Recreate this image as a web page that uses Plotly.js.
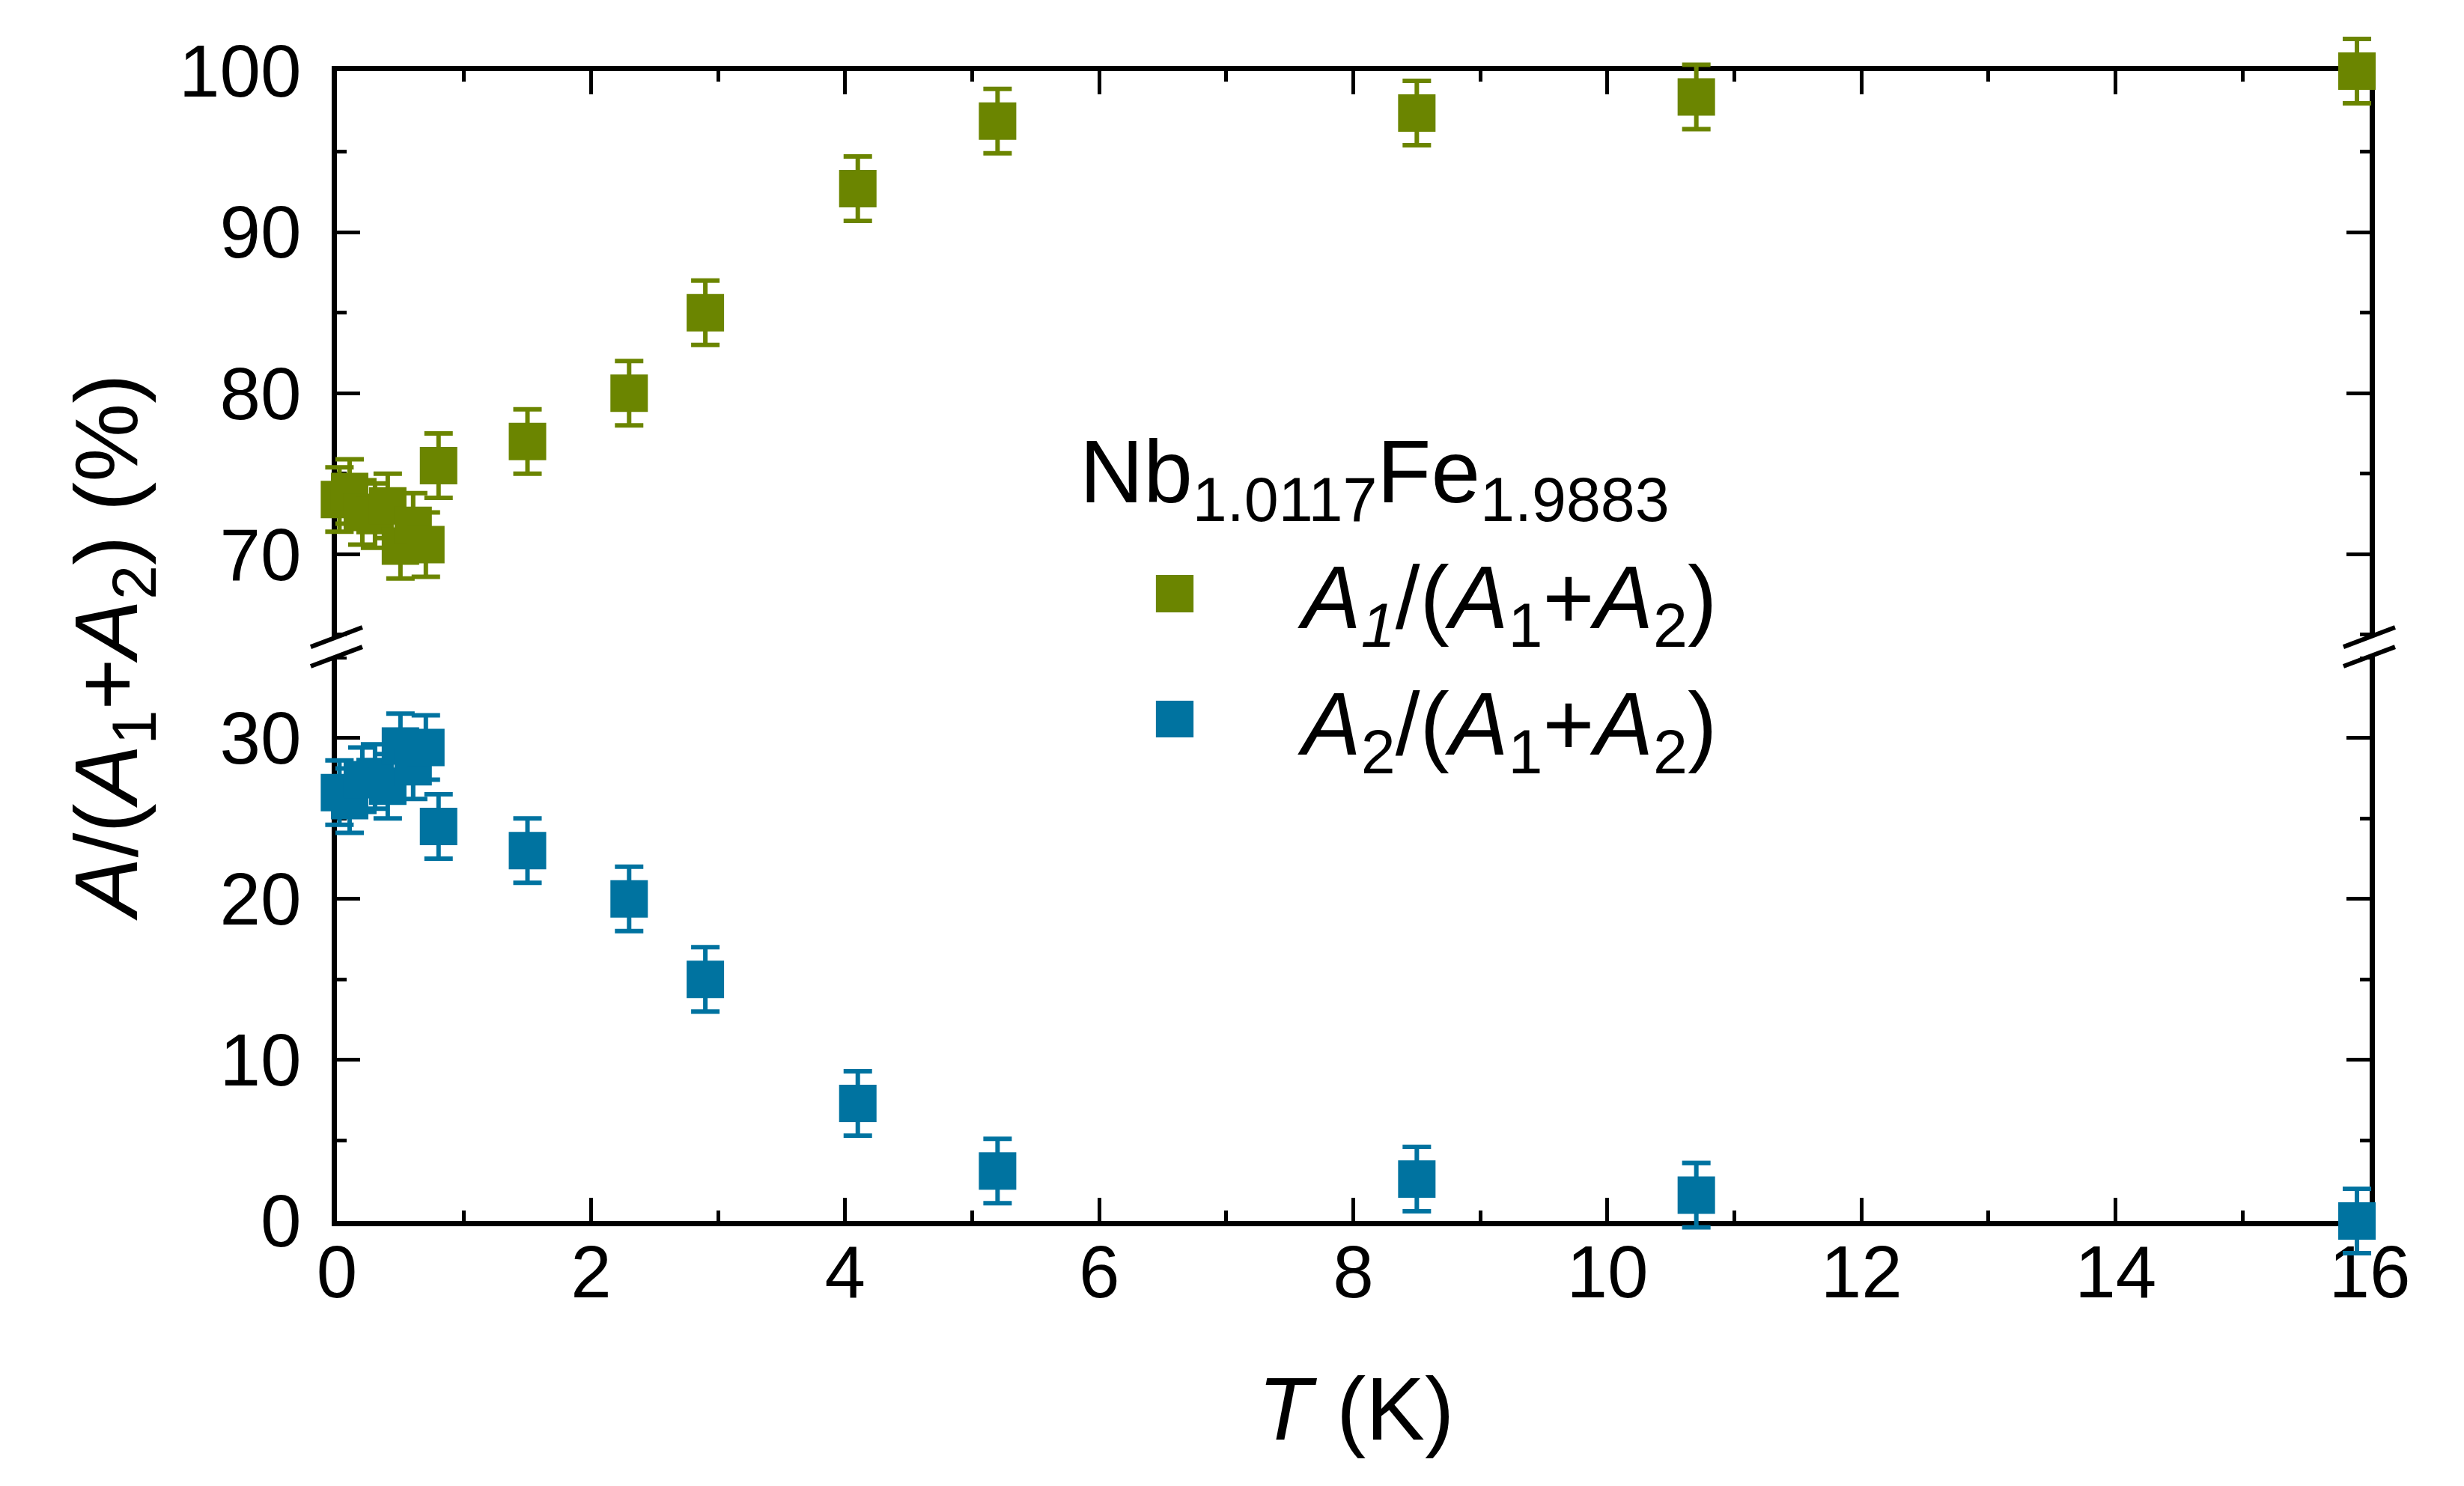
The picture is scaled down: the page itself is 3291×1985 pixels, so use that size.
<!DOCTYPE html>
<html>
<head>
<meta charset="utf-8">
<script src="https://cdn.plot.ly/plotly-3.0.1.min.js"></script>
<style>html,body{margin:0;padding:0;background:#fff;}#chart{width:3291px;height:1985px;}</style>
</head>
<body>
<div id="chart"></div>
<script>
// Temperature (K)
const T = [0.02, 0.1, 0.2, 0.3, 0.4, 0.5, 0.6, 0.7, 0.8, 1.5, 2.3, 2.9, 4.1, 5.2, 8.5, 10.7, 15.9];
// A1/(A1+A2) (%)
const A1 = [73.4, 73.9, 72.6, 72.4, 73.0, 70.5, 71.8, 70.6, 75.5, 77.0, 80.0, 85.0, 92.7, 96.9, 97.4, 98.4, 100.0];
const errA1 = [2, 2, 2, 2, 2, 2, 2, 2, 2, 2, 2, 2, 2, 2, 2, 2, 2];
// A2/(A1+A2) (%)
const A2 = [26.6, 26.1, 27.4, 27.6, 27.0, 29.5, 28.2, 29.4, 24.5, 23.0, 20.0, 15.0, 7.3, 3.1, 2.6, 1.6, 0.0];
const errA2 = [2, 2, 2, 2, 2, 2, 2, 2, 2, 2, 2, 2, 2, 2, 2, 2, 2];

const seriesNames = ['<i>A<sub>1</sub></i>/(<i>A</i><sub>1</sub>+<i>A</i><sub>2</sub>)',
                     '<i>A</i><sub>2</sub>/(<i>A</i><sub>1</sub>+<i>A</i><sub>2</sub>)'];
const legendTitle = 'Nb<sub>1.0117</sub>Fe<sub>1.9883</sub>';
const xTitle = '<i>T</i> (K)';
const yTitle = '<i>A</i>/(<i>A</i><sub>1</sub>+<i>A</i><sub>2</sub>) (%)';

const GREEN = '#6b8500';
const BLUE = '#0073a0';
const FONT = 'Liberation Sans, Arial, sans-serif';

function makeTrace(y, err, color, xa, ya, name) {
  return {
    x: T, y: y, xaxis: xa, yaxis: ya, name: name,
    type: 'scatter', mode: 'markers', cliponaxis: false, showlegend: false,
    marker: {symbol: 'square', size: 50, color: color, line: {width: 0}},
    error_y: {type: 'data', array: err, visible: true, color: color, thickness: 6, width: 19}
  };
}

const data = [
  makeTrace(A1, errA1, GREEN, 'x2', 'y2', seriesNames[0]),
  makeTrace(A2, errA2, BLUE, 'x', 'y', seriesNames[1])
];

const axCommon = {
  showline: true, linewidth: 7, linecolor: '#000', layer: 'below traces',
  ticks: 'inside', tickwidth: 5, tickcolor: '#000',
  showgrid: false, zeroline: false,
  tickfont: {family: FONT, size: 98, color: '#000'}
};

const layout = {
  width: 3291, height: 1985,
  margin: {l: 450, r: 126, t: 95, b: 354},
  paper_bgcolor: '#fff', plot_bgcolor: '#fff',
  font: {family: FONT, color: '#000'},
  showlegend: false,
  xaxis: Object.assign({}, axCommon, {
    domain: [0, 1], range: [0, 16], anchor: 'y', dtick: 2, tick0: 0,
    ticklen: 31, ticklabelstandoff: -23,
    minor: {dtick: 1, ticks: 'inside', ticklen: 14, tickwidth: 5, tickcolor: '#000', showgrid: false}
  }),
  xaxis2: Object.assign({}, axCommon, {
    domain: [0, 1], range: [0, 16], anchor: 'y2', side: 'top', dtick: 2, tick0: 0,
    ticklen: 31, showticklabels: false,
    minor: {dtick: 1, ticks: 'inside', ticklen: 14, tickwidth: 5, tickcolor: '#000', showgrid: false}
  }),
  yaxis: Object.assign({}, axCommon, {
    domain: [0, 0.5], range: [0, 35.7], anchor: 'x', dtick: 10, tick0: 0,
    ticklen: 31, mirror: 'ticks', ticklabelstandoff: 21,
    minor: {dtick: 5, ticks: 'inside', ticklen: 13, tickwidth: 5, tickcolor: '#000', showgrid: false}
  }),
  yaxis2: Object.assign({}, axCommon, {
    domain: [0.5, 1], range: [64.3, 100], anchor: 'x2', dtick: 10, tick0: 0,
    ticklen: 31, mirror: 'ticks', ticklabelstandoff: 21,
    minor: {dtick: 5, ticks: 'inside', ticklen: 13, tickwidth: 5, tickcolor: '#000', showgrid: false}
  }),
  shapes: [],
  annotations: []
};

// axis break marks on the left and right axes
[0, 1].forEach(function (px) {
  layout.shapes.push({type: 'rect', xref: 'paper', yref: 'paper', layer: 'above',
    x0: px - 0.007, x1: px + 0.007, y0: 0.4909, y1: 0.5078,
    fillcolor: '#fff', line: {width: 0}});
  layout.shapes.push({type: 'line', xref: 'paper', yref: 'paper', layer: 'above',
    x0: px - 0.0129, x1: px + 0.0125, y0: 0.4993, y1: 0.5163,
    line: {color: '#000', width: 6}});
  layout.shapes.push({type: 'line', xref: 'paper', yref: 'paper', layer: 'above',
    x0: px - 0.0129, x1: px + 0.0125, y0: 0.4824, y1: 0.4993,
    line: {color: '#000', width: 6}});
});

// legend swatches
layout.shapes.push({type: 'rect', xref: 'paper', yref: 'paper', layer: 'above',
  x0: 0.4029, x1: 0.4214, y0: 0.5293, y1: 0.5618, fillcolor: GREEN, line: {width: 0}});
layout.shapes.push({type: 'rect', xref: 'paper', yref: 'paper', layer: 'above',
  x0: 0.4029, x1: 0.4214, y0: 0.4206, y1: 0.4525, fillcolor: BLUE, line: {width: 0}});

const annFont = {family: FONT, size: 118, color: '#000'};
layout.annotations.push({xref: 'paper', yref: 'paper', x: 0.3646, y: 0.6458,
  xanchor: 'left', yanchor: 'middle', showarrow: false, text: legendTitle, font: annFont});
layout.annotations.push({xref: 'paper', yref: 'paper', x: 0.4718, y: 0.5367,
  xanchor: 'left', yanchor: 'middle', showarrow: false, text: seriesNames[0], font: annFont});
layout.annotations.push({xref: 'paper', yref: 'paper', x: 0.4718, y: 0.4264,
  xanchor: 'left', yanchor: 'middle', showarrow: false, text: seriesNames[1], font: annFont});
// axis titles
layout.annotations.push({xref: 'paper', yref: 'paper', x: 0.5013, y: -0.1634,
  xanchor: 'center', yanchor: 'middle', showarrow: false, text: xTitle, font: annFont});
layout.annotations.push({xref: 'paper', yref: 'paper', x: -0.1101, y: 0.4987, textangle: -90,
  xanchor: 'center', yanchor: 'middle', showarrow: false, text: yTitle, font: annFont});

Plotly.newPlot('chart', data, layout, {staticPlot: true, displayModeBar: false}).then(function (gd) {
  // let error bars extend past the axes, like the markers do (cliponaxis: false)
  gd.querySelectorAll('.cartesianlayer .errorbars, .cartesianlayer .errorbar, .cartesianlayer .trace').forEach(function (el) {
    el.removeAttribute('clip-path');
  });
});
</script>
</body>
</html>
